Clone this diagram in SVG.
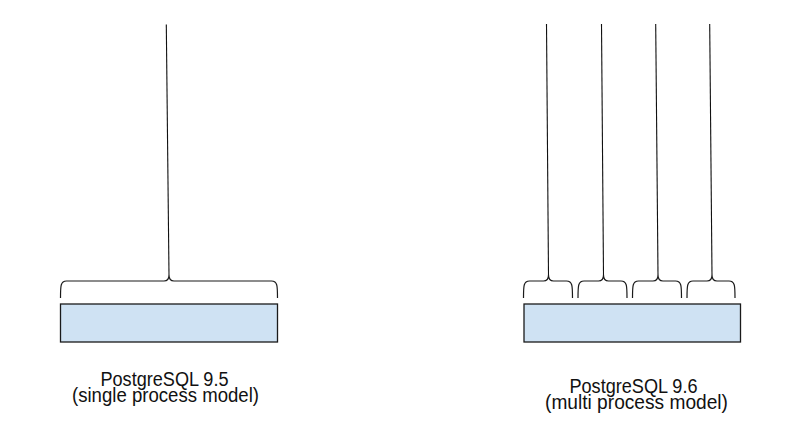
<svg xmlns="http://www.w3.org/2000/svg" width="800" height="436" viewBox="0 0 800 436">
<style>
.box{fill:#cfe2f3;stroke:#1a1a1a;stroke-width:1.3}
.brace{fill:none;stroke:#1a1a1a;stroke-width:1.2}
.conn{fill:none;stroke:#111;stroke-width:1.1}
.lbl{font-family:"Liberation Sans",Arial,sans-serif;font-size:19.5px;fill:#111;text-anchor:middle}
</style>
<rect width="800" height="436" fill="#fff"/>
<g id="connectors">
<line class="conn" x1="166.3" y1="24.5" x2="169" y2="275"/>
<line class="conn" x1="546.5" y1="24" x2="548.5" y2="275"/>
<line class="conn" x1="601.5" y1="24" x2="603.5" y2="275"/>
<line class="conn" x1="655.7" y1="24" x2="658" y2="275"/>
<line class="conn" x1="709.7" y1="24" x2="712" y2="275"/>
</g>
<g id="single-process">
<path class="brace" d="M60.5,298 C60.5,286 60.5,281 66.5,281 L164,281 C167,281 169,279 169,275 C169,279 171,281 174,281 L271.5,281 C277.5,281 277.5,286 277.5,298"/>
<rect class="box" x="60.5" y="304" width="217" height="38"/>
<text class="lbl"><tspan x="164.5" y="385.5" textLength="128" lengthAdjust="spacingAndGlyphs">PostgreSQL 9.5</tspan><tspan x="165.5" y="401.5" textLength="187" lengthAdjust="spacingAndGlyphs">(single process model)</tspan></text>
</g>
<g id="multi-process">
<path class="brace" d="M523.5,298 C523.5,286 523.5,281 529.5,281 L543.5,281 C546.5,281 548.5,279 548.5,275 C548.5,279 550.5,281 553.5,281 L566.5,281 C572.5,281 572.5,286 572.5,298"/>
<path class="brace" d="M578,298 C578,286 578,281 584,281 L598.5,281 C601.5,281 603.5,279 603.5,275 C603.5,279 605.5,281 608.5,281 L621,281 C627,281 627,286 627,298"/>
<path class="brace" d="M632.5,298 C632.5,286 632.5,281 638.5,281 L653,281 C656,281 658,279 658,275 C658,279 660,281 663,281 L675.5,281 C681.5,281 681.5,286 681.5,298"/>
<path class="brace" d="M687,298 C687,286 687,281 693,281 L707,281 C710,281 712,279 712,275 C712,279 714,281 717,281 L729,281 C735,281 735,286 735,298"/>
<rect class="box" x="524" y="304" width="216.5" height="38"/>
<text class="lbl"><tspan x="633.5" y="392.5" textLength="128" lengthAdjust="spacingAndGlyphs">PostgreSQL 9.6</tspan><tspan x="636.5" y="408.5" textLength="183" lengthAdjust="spacingAndGlyphs">(multi process model)</tspan></text>
</g>
</svg>
